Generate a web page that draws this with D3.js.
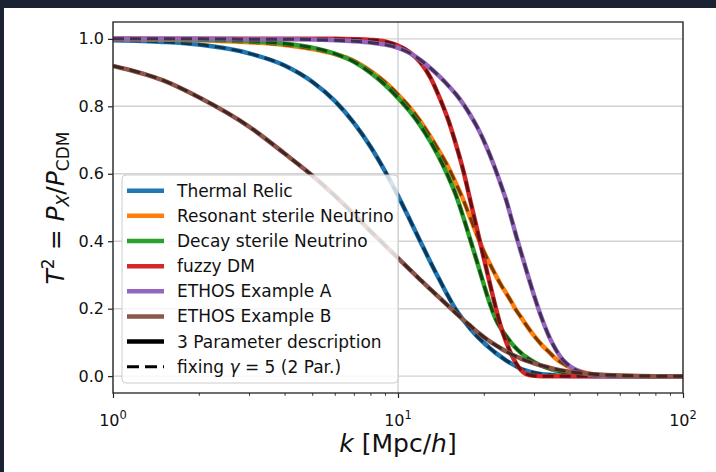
<!DOCTYPE html>
<html>
<head>
<meta charset="utf-8">
<script src="https://cdn.jsdelivr.net/npm/d3@7"></script>
<style>
  html, body { margin: 0; padding: 0; background: #1b2231; }
  svg { display: block; }
  text { font-family: "DejaVu Sans", sans-serif; fill: #111; }
</style>
</head>
<body>
<svg id="chart" width="716" height="472"></svg>
<script>
// Wavenumbers k [Mpc/h] at which the transfer functions are tabulated
const kValues = [1, 1.5, 2, 3, 4, 5, 6, 7, 8, 9, 10, 11, 12, 13, 14, 15, 16, 17, 18, 19, 20,
  21, 22, 23, 24, 25, 26, 27, 28, 30, 32, 34, 36, 38, 40, 45, 50, 60, 70, 80, 100];

// Squared transfer functions T^2 = P_X / P_CDM
const thermalRelic = [0.996, 0.991, 0.983, 0.957, 0.921, 0.873, 0.816, 0.751, 0.681, 0.608, 0.535,
  0.464, 0.398, 0.338, 0.285, 0.237, 0.196, 0.165, 0.139, 0.117, 0.099,
  0.083, 0.069, 0.057, 0.046, 0.037, 0.029, 0.022, 0.017, 0.010, 0.006, 0.004, 0.002, 0.001, 0.0005, 0.0001, 0, 0, 0, 0, 0];
const resonantSterile = [0.999, 0.998, 0.996, 0.990, 0.982, 0.970, 0.955, 0.935, 0.905, 0.872, 0.835,
  0.797, 0.755, 0.710, 0.665, 0.620, 0.570, 0.520, 0.465, 0.415, 0.370,
  0.333, 0.300, 0.270, 0.245, 0.220, 0.195, 0.175, 0.155, 0.120, 0.092, 0.070, 0.050, 0.037, 0.026, 0.011, 0.004, 0.001, 0, 0, 0];
const decaySterile = [1.000, 0.999, 0.998, 0.994, 0.986, 0.974, 0.956, 0.932, 0.900, 0.864, 0.825,
  0.785, 0.742, 0.695, 0.645, 0.592, 0.535, 0.468, 0.400, 0.335, 0.272,
  0.215, 0.170, 0.140, 0.118, 0.098, 0.082, 0.069, 0.058, 0.042, 0.030, 0.022, 0.016, 0.011, 0.008, 0.003, 0.001, 0, 0, 0, 0];
const fuzzyDM = [1.000, 1.000, 1.000, 1.000, 1.000, 1.000, 1.000, 0.999, 0.997, 0.992, 0.980,
  0.960, 0.930, 0.885, 0.825, 0.760, 0.685, 0.605, 0.515, 0.430, 0.350,
  0.275, 0.205, 0.145, 0.100, 0.064, 0.037, 0.018, 0.007, 0.001, 0, 0, 0, 0, 0, 0, 0, 0, 0, 0, 0];
const ethosA = [1.000, 1.000, 1.000, 0.999, 0.999, 0.998, 0.996, 0.993, 0.989, 0.983, 0.973,
  0.958, 0.937, 0.913, 0.888, 0.862, 0.835, 0.805, 0.772, 0.737, 0.698,
  0.656, 0.612, 0.566, 0.520, 0.467, 0.415, 0.368, 0.323, 0.240, 0.170, 0.115, 0.075, 0.047, 0.030, 0.009, 0.002, 0, 0, 0, 0];
const ethosB = [0.920, 0.877, 0.827, 0.740, 0.660, 0.595, 0.535, 0.480, 0.430, 0.388, 0.350,
  0.316, 0.285, 0.257, 0.232, 0.208, 0.186, 0.166, 0.148, 0.131, 0.116,
  0.103, 0.092, 0.082, 0.073, 0.065, 0.058, 0.052, 0.047, 0.038, 0.031, 0.025, 0.020, 0.016, 0.013, 0.008, 0.005, 0.002, 0.0005, 0, 0];

const seriesNames = ["Thermal Relic", "Resonant sterile Neutrino", "Decay sterile Neutrino",
  "fuzzy DM", "ETHOS Example A", "ETHOS Example B"];
const seriesValues = [thermalRelic, resonantSterile, decaySterile, fuzzyDM, ethosA, ethosB];
const seriesColors = ["#1f77b4", "#ff7f0e", "#2ca02c", "#d62728", "#9467bd", "#8c564b"];

const yTicks = [0.0, 0.2, 0.4, 0.6, 0.8, 1.0];
const xMajorTicks = [1, 10, 100];
const xExponents = ["0", "1", "2"];

const svg = d3.select("#chart");

// white figure panel
svg.append("rect").attr("x", 4).attr("y", 8).attr("width", 712).attr("height", 464).attr("fill", "#ffffff");

const plot = { left: 113, right: 683, top: 22, bottom: 393 };
const x = d3.scaleLog().domain([1, 100]).range([plot.left, plot.right]);
const y = d3.scaleLinear().domain([-0.05, 1.05]).range([plot.bottom, plot.top]);

svg.append("clipPath").attr("id", "plotClip")
  .append("rect").attr("x", plot.left).attr("y", plot.top)
  .attr("width", plot.right - plot.left).attr("height", plot.bottom - plot.top);

// grid
const grid = svg.append("g").attr("stroke", "#d2d2d2").attr("stroke-width", 1.4);
grid.selectAll("line.h").data(yTicks).join("line")
  .attr("x1", plot.left).attr("x2", plot.right)
  .attr("y1", d => y(d)).attr("y2", d => y(d));
grid.selectAll("line.v").data(xMajorTicks).join("line")
  .attr("y1", plot.top).attr("y2", plot.bottom)
  .attr("x1", d => x(d)).attr("x2", d => x(d));

// curves: solid three-parameter fit with dashed two-parameter fit on top
const line = d3.line()
  .x(d => x(d.k))
  .y(d => y(d.v))
  .curve(d3.curveMonotoneX);

const curves = svg.append("g").attr("clip-path", "url(#plotClip)");
seriesValues.forEach((vals, i) => {
  const pts = kValues.map((k, j) => ({ k, v: vals[j] }));
  curves.append("path").datum(pts)
    .attr("d", line).attr("fill", "none")
    .attr("stroke", seriesColors[i]).attr("stroke-width", 4.5)
    .attr("stroke-linecap", "butt");
  curves.append("path").datum(pts)
    .attr("d", line).attr("fill", "none")
    .attr("stroke", "#000").attr("stroke-opacity", 0.55).attr("stroke-width", 3)
    .attr("stroke-dasharray", "11,6");
});

// axes
const yAxis = d3.axisLeft(y).tickValues(yTicks).tickFormat(d3.format(".1f")).tickSize(5).tickPadding(4);
const gy = svg.append("g").attr("transform", `translate(${plot.left},0)`).call(yAxis);
gy.select(".domain").remove();
gy.selectAll("text").attr("font-size", 16).attr("font-family", "DejaVu Sans").attr("fill", "#111");
gy.selectAll("line").attr("stroke", "#222").attr("stroke-width", 1.2);

const xAxis = d3.axisBottom(x).tickValues(xMajorTicks).tickFormat("").tickSize(5);
const gx = svg.append("g").attr("transform", `translate(0,${plot.bottom})`).call(xAxis);
gx.select(".domain").remove();
gx.selectAll("line").attr("stroke", "#222").attr("stroke-width", 1.2);

const minorTicks = [];
[1, 10].forEach(dec => { for (let m = 2; m <= 9; m++) minorTicks.push(dec * m); });
const xMinor = d3.axisBottom(x).tickValues(minorTicks).tickFormat("").tickSize(2.8);
const gxm = svg.append("g").attr("transform", `translate(0,${plot.bottom})`).call(xMinor);
gxm.select(".domain").remove();
gxm.selectAll("line").attr("stroke", "#222").attr("stroke-width", 0.9);

// power-of-ten labels
const xl = svg.append("g");
xMajorTicks.forEach((t, i) => {
  const tx = xl.append("text").attr("x", x(t)).attr("y", 426)
    .attr("text-anchor", "middle").attr("font-size", 16);
  tx.append("tspan").text("10");
  tx.append("tspan").attr("dy", -7).attr("font-size", 11.5).text(xExponents[i]);
});

// frame
svg.append("rect").attr("x", plot.left).attr("y", plot.top)
  .attr("width", plot.right - plot.left).attr("height", plot.bottom - plot.top)
  .attr("fill", "none").attr("stroke", "#222").attr("stroke-width", 1.3);

// axis titles
const xt = svg.append("text").attr("x", 398).attr("y", 452)
  .attr("text-anchor", "middle").attr("font-size", 25);
xt.append("tspan").attr("font-style", "italic").text("k");
xt.append("tspan").text(" [Mpc/");
xt.append("tspan").attr("font-style", "italic").text("h");
xt.append("tspan").text("]");

const yt = svg.append("text").attr("transform", "translate(64,208) rotate(-90)")
  .attr("text-anchor", "middle").attr("font-size", 25);
yt.append("tspan").attr("font-style", "italic").text("T");
yt.append("tspan").attr("dy", -10).attr("font-size", 17).text("2");
yt.append("tspan").attr("dy", 10).text(" = ");
yt.append("tspan").attr("font-style", "italic").text("P");
yt.append("tspan").attr("dy", 5).attr("font-size", 17).attr("font-style", "italic").text("X");
yt.append("tspan").attr("dy", -5).text("/");
yt.append("tspan").attr("font-style", "italic").text("P");
yt.append("tspan").attr("dy", 5).attr("font-size", 17).text("CDM");

// legend
const legend = svg.append("g");
legend.append("rect").attr("x", 122).attr("y", 175).attr("width", 276).attr("height", 208)
  .attr("rx", 4).attr("fill", "#ffffff").attr("fill-opacity", 0.8)
  .attr("stroke", "#cccccc").attr("stroke-width", 1);

const legendItems = seriesNames.map((n, i) => ({ label: n, color: seriesColors[i], dash: null }))
  .concat([{ label: "3 Parameter description", color: "#000", dash: null },
           { label: "fixing γ = 5 (2 Par.)", color: "#000", dash: "12,6" }]);

legendItems.forEach((it, i) => {
  const cy = 190.7 + i * 25.15;
  legend.append("line").attr("x1", 127).attr("x2", 164).attr("y1", cy).attr("y2", cy)
    .attr("stroke", it.color).attr("stroke-width", it.dash ? 3.2 : 4.5)
    .attr("stroke-dasharray", it.dash);
  const t = legend.append("text").attr("x", 177).attr("y", cy + 6).attr("font-size", 17);
  if (it.dash) {
    t.append("tspan").text("fixing ");
    t.append("tspan").attr("font-style", "italic").text("γ");
    t.append("tspan").text(" = 5 (2 Par.)");
  } else {
    t.text(it.label);
  }
});
</script>
</body>
</html>
